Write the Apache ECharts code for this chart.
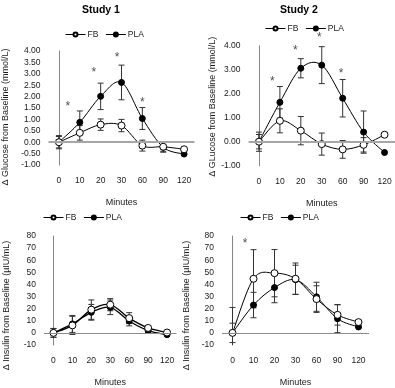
<!DOCTYPE html>
<html>
<head>
<meta charset="utf-8">
<script src="https://cdn.jsdelivr.net/npm/echarts@6/dist/echarts.min.js"></script>
<style>html,body{margin:0;padding:0;background:#fff}#c{width:395px;height:388px}</style>
</head>
<body>
<div id="c"></div>
<script>
// ---- data ----
const cats = ['0','10','20','30','60','90','120'];
const seriesNames = ['FB','PLA'];
const titles = ['Study 1','Study 2'];
const glucoseName1 = 'Δ Glucose from Baseline (mmol/L)';
const glucoseName2 = 'Δ GLucose from Baseline (mmol/L)';
const insulinName = 'Δ Insulin from Baseline (µIU/mL)';
const xName = 'Minutes';

// Study 1 glucose
const s1FB     = [0, 0.41, 0.77, 0.73, -0.15, -0.20, -0.31];
const s1FBErr  = [0.29, 0.32, 0.25, 0.27, 0.24, 0.20, 0];
const s1PLA    = [0, 0.87, 2.01, 2.62, 1.04, -0.22, -0.52];
const s1PLAErr = [0.25, 0.50, 0.58, 0.76, 0.48, 0.22, 0];
const s1StarX  = [0.43, 1.67, 2.79, 4.0];
const s1StarY  = [1.70, 3.16, 3.85, 1.87];

// Study 2 glucose
const s2FB     = [0, 0.87, 0.46, -0.10, -0.32, -0.13, 0.29];
const s2FBErr  = [0.40, 0.50, 0.59, 0.46, 0.37, 0.30, 0];
const s2PLA    = [0, 1.64, 3.06, 3.19, 1.81, 0.40, -0.45];
const s2PLAErr = [0.30, 0.66, 0.40, 0.77, 0.78, 0.88, 0];
const s2StarX  = [0.64, 1.74, 2.88, 3.92];
const s2StarY  = [2.64, 3.93, 4.45, 2.95];

// Study 1 insulin
const s3FB     = [0, 6.2, 19.2, 23.3, 12.2, 4.1, 0.3];
const s3FBErr  = [3.7, 7.5, 8, 5, 4.5, 2, 0];
const s3PLA    = [0, 7.4, 17, 21.1, 9.8, 1.9, -1.5];
const s3PLAErr = [3.5, 7, 6.5, 6, 4, 1.5, 0];

// Study 2 insulin
const s4FB     = [0, 44.7, 49.3, 44.7, 27.9, 14.9, 8.9];
const s4FBErr  = [21, 24, 19.5, 13, 11, 8.5, 0];
const s4PLA    = [0, 23, 37.4, 43.9, 29.8, 11.7, 4.9];
const s4PLAErr = [8, 10.5, 12.5, 12, 12, 11.5, 0];
const s4StarX  = [0.6];
const s4StarY  = [75.9];

// ---- chart ----
const FONT = "'Liberation Sans', 'DejaVu Sans', sans-serif";
const TXT = '#1a1a1a';
const chart = echarts.init(document.getElementById('c'), null, {renderer:'canvas'});

const grids = [
  {left: 48.5, top: 51, width: 146, height: 114},
  {left: 248.5, top: 45.7, width: 147, height: 120},
  {left: 44, top: 236, width: 132.5, height: 110.7},
  {left: 222, top: 236, width: 147, height: 110.7}
];
const yCfg = [
  {min:-1, max:4, interval:0.5, name:glucoseName1, gap:38, pad:[0,18,0,0], fmt:v=>v.toFixed(2)},
  {min:-1, max:4, interval:1, name:glucoseName2, gap:31, pad:[0,2,0,0], fmt:v=>v.toFixed(2)},
  {min:-10, max:80, interval:10, name:insulinName, gap:33, pad:[0,30,0,0], fmt:v=>String(v)},
  {min:-10, max:80, interval:10, name:insulinName, gap:31, pad:[0,30,0,0], fmt:v=>String(v)}
];
const panels = [
  {fb:s1FB, fbErr:s1FBErr, pla:s1PLA, plaErr:s1PLAErr, sx:s1StarX, sy:s1StarY, zero:{color:'#a6a6a6', width:2}, lw:1},
  {fb:s2FB, fbErr:s2FBErr, pla:s2PLA, plaErr:s2PLAErr, sx:s2StarX, sy:s2StarY, zero:{color:'#a6a6a6', width:2}, lw:1},
  {fb:s3FB, fbErr:s3FBErr, pla:s3PLA, plaErr:s3PLAErr, sx:[], sy:[], zero:{color:'#8c8c8c', width:1}, lw:1.3},
  {fb:s4FB, fbErr:s4FBErr, pla:s4PLA, plaErr:s4PLAErr, sx:s4StarX, sy:s4StarY, zero:{color:'#8c8c8c', width:1}, lw:1}
];

const xAxes = [], yAxes = [], series = [];
grids.forEach((g, k) => {
  xAxes.push({
    type:'category', gridIndex:k, data:cats, boundaryGap:true,
    axisLine:{show:false}, axisTick:{show:false},
    axisLabel:{margin:11, fontSize:8.5, fontFamily:FONT, color:TXT},
    name:xName, nameLocation:'middle', nameGap:33,
    nameTextStyle:{fontSize:9, fontFamily:FONT, color:TXT}
  });
  const y = yCfg[k];
  yAxes.push({
    type:'value', gridIndex:k, min:y.min, max:y.max, interval:y.interval,
    axisLine:{show:true, lineStyle:{color:'#868686', width:1}},
    axisTick:{show:false}, splitLine:{show:false},
    axisLabel:{margin:8, fontSize:8.5, fontFamily:FONT, color:TXT, formatter:y.fmt},
    name:y.name, nameLocation:'middle', nameGap:y.gap,
    nameTextStyle:{fontSize:9, fontFamily:FONT, color:TXT, padding:y.pad}
  });
});
// hidden value axes for asterisk annotations
grids.forEach((g, k) => {
  xAxes.push({type:'value', gridIndex:k, min:-0.5, max:6.5, show:false});
});

function errSeries(k, vals, errs, withZero, zero) {
  const data = [];
  vals.forEach((v, j) => { if (errs[j]) data.push([j, v - errs[j], v + errs[j]]); });
  const s = {
    type:'custom', xAxisIndex:k, yAxisIndex:k, z:1, clip:true, silent:true,
    encode:{x:0, y:[1,2]}, data:data,
    renderItem:(params, api) => {
      const x = api.value(0);
      const lo = api.coord([x, api.value(1)]);
      const hi = api.coord([x, api.value(2)]);
      const w = 3, st = {stroke:'#333', lineWidth:1};
      return {type:'group', children:[
        {type:'line', shape:{x1:lo[0], y1:lo[1], x2:hi[0], y2:hi[1]}, style:st},
        {type:'line', shape:{x1:lo[0]-w, y1:lo[1], x2:lo[0]+w, y2:lo[1]}, style:st},
        {type:'line', shape:{x1:hi[0]-w, y1:hi[1], x2:hi[0]+w, y2:hi[1]}, style:st}
      ]};
    }
  };
  if (withZero) {
    s.markLine = {silent:true, symbol:['none','none'], label:{show:false},
      lineStyle:{color:zero.color, width:zero.width, type:'solid'},
      data:[{yAxis:0}], animation:false};
  }
  return s;
}

// Spreadsheet-style smoothed connecting curve (Catmull-Rom -> Bezier), drawn through axis coordinates
function curveSeries(k, vals, lw) {
  return {
    type:'custom', xAxisIndex:k, yAxisIndex:k, z:2, silent:true,
    encode:{x:0, y:1}, data:vals.map((v, j) => [j, v]),
    renderItem:(params, api) => {
      const j = params.dataIndex, n = vals.length;
      if (j >= n - 1) return null;
      const P = i => api.coord([Math.max(0, Math.min(n - 1, i)), vals[Math.max(0, Math.min(n - 1, i))]]);
      const p0 = P(j - 1), p1 = P(j), p2 = P(j + 1), p3 = P(j + 2);
      const t = 1 / 6;
      return {type:'bezierCurve', shape:{
        x1:p1[0], y1:p1[1], x2:p2[0], y2:p2[1],
        cpx1:p1[0] + (p2[0] - p0[0]) * t, cpy1:p1[1] + (p2[1] - p0[1]) * t,
        cpx2:p2[0] - (p3[0] - p1[0]) * t, cpy2:p2[1] - (p3[1] - p1[1]) * t
      }, style:{stroke:'#000', lineWidth:lw, fill:null}};
    }
  };
}

panels.forEach((p, k) => {
  series.push(errSeries(k, p.fb, p.fbErr, true, p.zero));
  series.push(errSeries(k, p.pla, p.plaErr, false));
  series.push(curveSeries(k, p.fb, p.lw));
  series.push(curveSeries(k, p.pla, p.lw));
  series.push({
    name:seriesNames[0], type:'line', xAxisIndex:k, yAxisIndex:k, data:p.fb, z:4,
    symbol:'circle', symbolSize:7, showAllSymbol:true,
    lineStyle:{color:'#000', width:0, opacity:0},
    itemStyle:{color:'#fff', borderColor:'#000', borderWidth:1}
  });
  series.push({
    name:seriesNames[1], type:'line', xAxisIndex:k, yAxisIndex:k, data:p.pla, z:3,
    symbol:'circle', symbolSize:6, showAllSymbol:true,
    lineStyle:{color:'#000', width:0, opacity:0},
    itemStyle:{color:'#000', borderColor:'#000', borderWidth:1}
  });
  if (p.sx.length) {
    series.push({
      type:'scatter', xAxisIndex:4 + k, yAxisIndex:k, clip:false, silent:true,
      symbolSize:0, data:p.sx.map((x, j) => [x, p.sy[j]]),
      label:{show:true, position:'inside', formatter:'*', fontSize:12, fontFamily:FONT, color:TXT, offset:[0,3]}
    });
  }
});

const legendBase = {
  data:seriesNames, itemWidth:20, itemHeight:5, itemGap:7, padding:0,
  lineStyle:{color:'#000', width:1, opacity:1},
  textStyle:{fontSize:8.5, fontFamily:FONT, color:TXT, padding:[0,0,0,-3]}
};
const legends = [
  Object.assign({left:65, top:30}, legendBase),
  Object.assign({left:265, top:24}, legendBase),
  Object.assign({left:43, top:213}, legendBase),
  Object.assign({left:240, top:213}, legendBase)
];

chart.setOption({
  animation:false,
  backgroundColor:'#fff',
  title:[
    {text:titles[0], left:82, top:5, padding:0, textStyle:{fontSize:10.5, fontWeight:'bold', fontFamily:FONT, color:'#000'}},
    {text:titles[1], left:280, top:5, padding:0, textStyle:{fontSize:10.5, fontWeight:'bold', fontFamily:FONT, color:'#000'}}
  ],
  legend:legends,
  grid:grids,
  xAxis:xAxes,
  yAxis:yAxes,
  series:series
});
</script>
</body>
</html>
